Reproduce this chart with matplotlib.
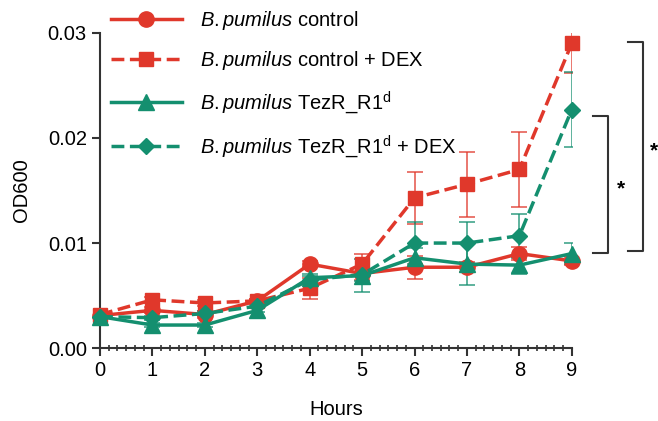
import matplotlib.pyplot as plt
import numpy as np
from matplotlib.ticker import MultipleLocator

plt.rcParams['font.family'] = ['Liberation Sans', 'DejaVu Sans']
plt.rcParams['mathtext.fontset'] = 'custom'
plt.rcParams['mathtext.rm'] = 'Liberation Sans'
plt.rcParams['mathtext.it'] = 'Liberation Sans:italic'

hours = [0, 1, 2, 3, 4, 5, 6, 7, 8, 9]

# B.pumilus control
ctrl = [0.0031, 0.0036, 0.0032, 0.0045, 0.0080, 0.0071, 0.0077, 0.0077, 0.0090, 0.0083]
ctrl_err = [0.0002, 0.0003, 0.0003, 0.0002, 0.0003, 0.0006, 0.0011, 0.0005, 0.0006, 0.0004]
# B.pumilus control + DEX
ctrl_dex = [0.0032, 0.0046, 0.0043, 0.0045, 0.0057, 0.0080, 0.0143, 0.0156, 0.0170, 0.0290]
ctrl_dex_err = [0.0002, 0.0003, 0.0003, 0.0002, 0.0010, 0.0010, 0.0025, 0.0031, 0.0036, 0.0028]
# B.pumilus TezR_R1d
tezr = [0.0030, 0.0022, 0.0022, 0.0036, 0.0067, 0.0069, 0.0086, 0.0080, 0.0079, 0.0090]
tezr_err = [0.0002, 0.0002, 0.0002, 0.0002, 0.0004, 0.0016, 0.0009, 0.0020, 0.0008, 0.0010]
# B.pumilus TezR_R1d + DEX
tezr_dex = [0.0030, 0.0029, 0.0033, 0.0040, 0.0065, 0.0070, 0.0100, 0.0100, 0.0107, 0.0227]
tezr_dex_err = [0.0002, 0.0002, 0.0002, 0.0002, 0.0004, 0.0006, 0.0020, 0.0020, 0.0021, 0.0036]

red = '#e0382b'
green = '#148f6f'

fig = plt.figure(figsize=(6.58, 4.21), dpi=100)
ax = fig.add_axes([0.152, 0.173, 0.717, 0.749])

series = [
    (ctrl, ctrl_err, red, '-', 'o', 11, r'$\it{B.pumilus}$ control'),
    (ctrl_dex, ctrl_dex_err, red, '--', 's', 10, r'$\it{B.pumilus}$ control + DEX'),
    (tezr, tezr_err, green, '-', '^', 11, r'$\it{B.pumilus}$ TezR_R1$^\mathregular{d}$'),
    (tezr_dex, tezr_dex_err, green, '--', 'D', 8, r'$\it{B.pumilus}$ TezR_R1$^\mathregular{d}$ + DEX'),
]

handles = []
for y, e, c, ls, m, ms, lab in series:
    ax.errorbar(hours, y, yerr=e, fmt='none', ecolor=c, elinewidth=1.2,
                capsize=6, capthick=1.2, alpha=0.8)
    h, = ax.plot(hours, y, color=c, linestyle=ls, linewidth=2.5, marker=m,
                 markersize=ms, label=lab, clip_on=False, zorder=3)
    handles.append(h)

ax.set_xlim(0, 9)
ax.set_ylim(0, 0.03)
ax.set_xticks(hours)
ax.set_yticks([0, 0.01, 0.02, 0.03])
ax.set_yticklabels(['0.00', '0.01', '0.02', '0.03'])
ax.xaxis.set_minor_locator(MultipleLocator(1 / 6))
ax.tick_params(axis='both', which='major', labelsize=14.5, length=6, width=1.5, color='#333333')
ax.tick_params(axis='x', which='minor', direction='inout', length=4, width=1.2, color='#333333')
for s in ['top', 'right']:
    ax.spines[s].set_visible(False)
for s in ['left', 'bottom']:
    ax.spines[s].set_linewidth(1.5)
    ax.spines[s].set_color('#333333')
ax.set_xlabel('Hours', fontsize=14.5, labelpad=14)
ax.set_ylabel('OD600', fontsize=14.5, labelpad=12)

# significance brackets
ax.plot([9.40, 9.69, 9.69, 9.40], [0.0221, 0.0221, 0.00905, 0.00905],
        color='#333333', linewidth=1.5, clip_on=False)
ax.text(9.94, 0.0152, '*', fontsize=15, fontweight='bold', ha='center', va='center')
ax.plot([10.07, 10.35, 10.35, 10.07], [0.0291, 0.0291, 0.0092, 0.0092],
        color='#333333', linewidth=1.5, clip_on=False)
ax.text(10.56, 0.0188, '*', fontsize=15, fontweight='bold', ha='center', va='center')

fig.legend(handles=handles, loc='upper left', bbox_to_anchor=(0.155, 1.0),
           frameon=False, fontsize=14.5, handlelength=3.5, labelspacing=0.85,
           handletextpad=0.9, borderaxespad=0.05)

plt.savefig('out.png', dpi=100)
